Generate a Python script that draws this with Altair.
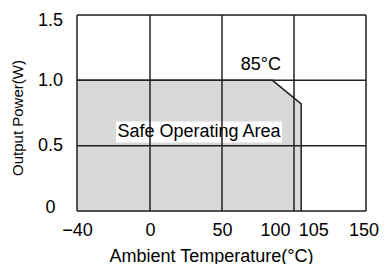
import altair as alt
import pandas as pd

# Derating curve
temp = [-40, 85, 105, 105]
power = [1.0, 1.0, 0.82, 0.0]

# Axis ticks / grid
x_ticks = [-40, 0, 50, 100, 105, 150]
y_ticks = [0, 0.5, 1.0, 1.5]
x_grid = [-40, 0, 50, 100, 150]
y_grid = [0, 0.5, 1.0, 1.5]

# Annotations
ann_text = ["85°C", "Safe Operating Area"]
ann_x = [77, 34]
ann_y = [1.12, 0.605]

FONT = "Liberation Sans, Arial, Helvetica, sans-serif"
W, H = 289, 196

curve = pd.DataFrame({"t": temp, "p": power, "i": list(range(len(temp)))})
vgrid = pd.DataFrame({"t": x_grid})
hgrid = pd.DataFrame({"p": y_grid})
ann = pd.DataFrame({"t": ann_x, "p": ann_y, "label": ann_text})

xscale = alt.Scale(domain=[-40, 0, 150], range=[0, 73, W], nice=False, zero=False)
yscale = alt.Scale(domain=[0, 1.5], nice=False, zero=False)

xaxis = alt.Axis(
    values=x_ticks, grid=False, ticks=False, tickSize=0, domain=False,
    labelFont=FONT, labelFontSize=18, labelColor="#000",
    labelPadding=10, labelAlign="center", labelBaseline="top",
    labelFlush=False, labelOverlap=False, labelBound=False,
    labelOffset={"condition": [{"test": "datum.value == 100", "value": -19},
                               {"test": "datum.value == 105", "value": 12},
                               {"test": "datum.value == 150", "value": -2.5}],
                 "value": 0},
    title="Ambient Temperature(°C)", titleFont=FONT, titleFontSize=18,
    titleFontWeight="normal", titleColor="#000",
    titleX=134, titleY=50, titleAlign="center", titleBaseline="alphabetic",
)
yaxis = alt.Axis(
    values=y_ticks, grid=False, ticks=False, tickSize=0, domain=False,
    labelFont=FONT, labelFontSize=18, labelColor="#000",
    labelPadding=27, labelAlign="center", labelBaseline="middle",
    labelFlush=False, labelOverlap=False, labelBound=False,
    labelExpr="datum.value == 0 ? '0' : format(datum.value, '.1f')",
    labelOffset={"condition": [{"test": "datum.value == 0", "value": -3.5},
                               {"test": "datum.value == 1.5", "value": 5.5}],
                 "value": 0},
    title="Output Power(W)", titleFont=FONT, titleFontSize=15,
    titleFontWeight="normal", titleColor="#000",
    titleX=-60, titleY=102.5, titleAngle=270, titleAlign="center",
    titleBaseline="middle",
)

area = alt.Chart(curve).transform_filter("datum.p > 0").mark_area(
    color="#d9d9d9", opacity=1
).encode(
    x=alt.X("t:Q", scale=xscale, axis=xaxis),
    y=alt.Y("p:Q", scale=yscale, axis=yaxis, stack=None),
)
outline = alt.Chart(curve).mark_line(color="#222", strokeWidth=1.5).encode(
    x=alt.X("t:Q", scale=xscale), y=alt.Y("p:Q", scale=yscale), order="i:Q"
)
box = alt.Chart(ann.iloc[[1]]).mark_rect(color="white", width=166, height=21, opacity=1).encode(
    x=alt.X("t:Q", scale=xscale), y=alt.Y("p:Q", scale=yscale)
)
vrules = alt.Chart(vgrid).mark_rule(color="#222", strokeWidth=1.5).encode(
    x=alt.X("t:Q", scale=xscale)
)
hrules = alt.Chart(hgrid).mark_rule(color="#222", strokeWidth=1.5).encode(
    y=alt.Y("p:Q", scale=yscale)
)
texts = alt.Chart(ann).mark_text(font=FONT, fontSize=18, color="#000", align="center", baseline="middle").encode(
    x=alt.X("t:Q", scale=xscale), y=alt.Y("p:Q", scale=yscale), text="label:N"
)

chart = alt.layer(area, outline, box, vrules, hrules, texts).properties(
    width=W, height=H,
    autosize=alt.AutoSizeParams(type="none"),
    padding={"left": 69, "top": 7, "right": 13, "bottom": 54},
).configure_view(stroke=None).configure(background="white")

chart.save("out.html", embed_options={"renderer": "svg", "actions": False})
